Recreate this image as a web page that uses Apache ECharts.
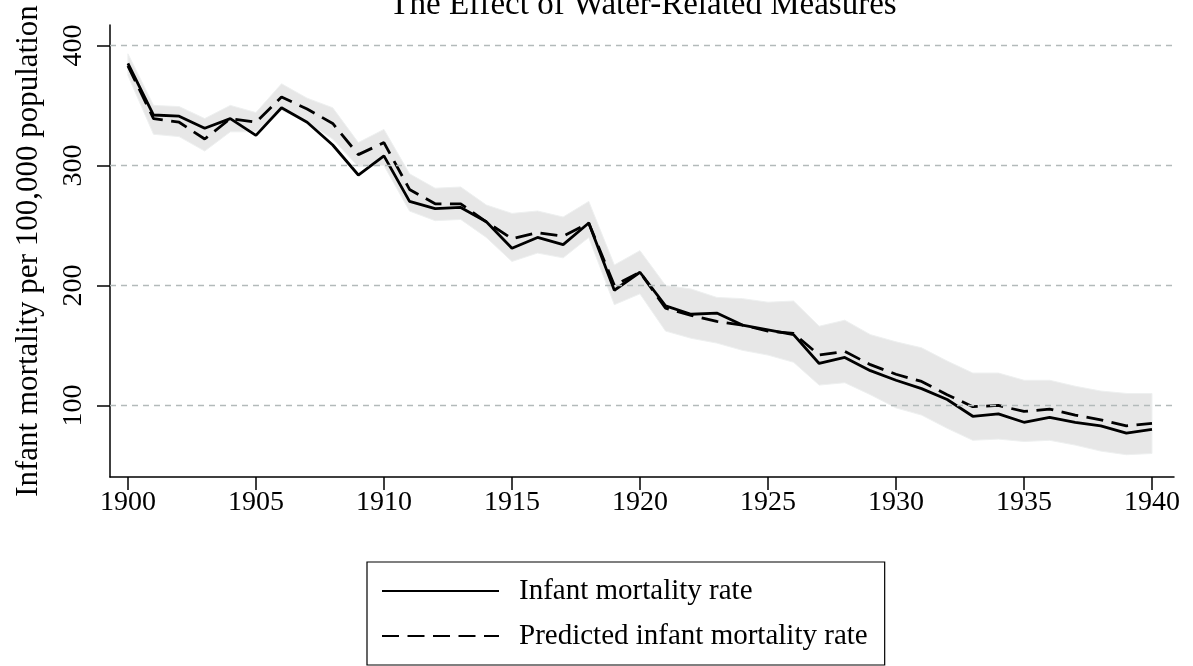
<!DOCTYPE html>
<html>
<head>
<meta charset="utf-8">
<script src="https://cdn.jsdelivr.net/npm/echarts@6/dist/echarts.min.js"></script>
<style>html,body{margin:0;padding:0;background:#fff}#c{width:1193px;height:666px}</style>
</head>
<body>
<div id="c"></div>
<script>
const years = [1900,1901,1902,1903,1904,1905,1906,1907,1908,1909,1910,1911,1912,1913,1914,1915,1916,1917,1918,1919,1920,1921,1922,1923,1924,1925,1926,1927,1928,1929,1930,1931,1932,1933,1934,1935,1936,1937,1938,1939,1940];
const actualRate = [385,342,341,331,339,325,348,336,317,292,308,270,264,265,253,231,240,234,252,196,211,183,176,177,167,163,159,135,140,129,121,114,105,91,93,86,90,86,83,77,80];
const predictedRate = [383,339,336,322,339,336,357,347,335,309,319,280,268,268,253,239,244,241,252,200,211,181,175,170,167,162,160,142,145,134,126,120,109,99,100,95,97,92,88,83,85];
const upperBound = [393,350,349,339,350,344,368,356,348,319,330,293,281,282,267,260,262,257,270,217,229,200,197,190,189,186,187,166,171,159,153,148,137,127,127,121,121,116,112,110,110];
const lowerBound = [375,326,324,312,328,328,346,336,322,299,300,262,254,255,240,220,227,223,240,184,193,162,156,152,146,142,136,117,119,109,98,92,81,71,72,70,71,67,62,59,60];
const xTicks = [1900,1905,1910,1915,1920,1925,1930,1935,1940];
const yTicks = [100,200,300,400];

const FONT = '"Liberation Serif", "DejaVu Serif", serif';
const pair = arr => years.map((y, i) => [y, arr[i]]);

const chart = echarts.init(document.getElementById('c'), null, {renderer: 'canvas'});
chart.setOption({
  backgroundColor: '#ffffff',
  animation: false,
  title: {
    text: 'The Effect of Water-Related Measures',
    left: 638, top: -16, textAlign: 'center',
    textStyle: {fontFamily: FONT, fontSize: 33, fontWeight: 'normal', color: '#000'}
  },
  grid: {left: 110, right: 19, top: 25, bottom: 189, containLabel: false, outerBoundsMode: 'none'},
  legend: {
    data: ['Infant mortality rate', 'Predicted infant mortality rate'],
    orient: 'vertical', left: 367, top: 562,
    itemWidth: 117, itemHeight: 24, itemGap: 15,
    padding: [14, 17, 14, 14],
    borderColor: '#000', borderWidth: 1.2, borderRadius: 0,
    itemStyle: {opacity: 0},
    textStyle: {fontFamily: FONT, fontSize: 29, color: '#000', lineHeight: 30, padding: [0, 0, 0, 15]}
  },
  xAxis: {
    type: 'value', min: 1899.3, max: 1940.86,
    axisLine: {show: true, lineStyle: {color: '#000', width: 1.5}},
    axisTick: {show: true, length: 13, inside: false, customValues: xTicks, lineStyle: {color: '#000', width: 1.5}},
    axisLabel: {customValues: xTicks, margin: 12, fontFamily: FONT, fontSize: 28, color: '#000', formatter: v => String(v)},
    splitLine: {show: false}
  },
  yAxis: {
    type: 'value', min: 40.4, max: 417,
    name: 'Infant mortality per 100,000 population',
    nameLocation: 'middle', nameGap: 66, nameRotate: 90,
    nameTextStyle: {fontFamily: FONT, fontSize: 31, color: '#000'},
    axisLine: {show: true, lineStyle: {color: '#000', width: 1.5}},
    axisTick: {show: true, length: 13, inside: false, customValues: yTicks, lineStyle: {color: '#000', width: 1.5}},
    axisLabel: {customValues: yTicks, rotate: 90, margin: 22, fontFamily: FONT, fontSize: 28, color: '#000', formatter: v => String(v)},
    splitLine: {show: false}
  },
  series: [
    {
      name: 'gridref', type: 'line', data: pair(lowerBound),
      symbol: 'none', silent: true, z: 1,
      lineStyle: {opacity: 0},
      markLine: {
        silent: true, symbol: ['none', 'none'], label: {show: false},
        lineStyle: {type: [6, 5], color: '#b3baba', width: 1.3},
        data: yTicks.map(v => ({yAxis: v}))
      }
    },
    {
      name: 'band', type: 'custom', silent: true, z: 2,
      data: [[years[0], lowerBound[0]]],
      encode: {x: 0, y: 1},
      renderItem: (params, api) => {
        const pts = [];
        years.forEach((y, i) => pts.push(api.coord([y, upperBound[i]])));
        for (let i = years.length - 1; i >= 0; i--) pts.push(api.coord([years[i], lowerBound[i]]));
        return {type: 'polygon', shape: {points: pts}, style: {fill: '#e7e7e7', stroke: '#eef0f0', lineWidth: 1}};
      }
    },
    {
      name: 'Infant mortality rate', type: 'line', data: pair(actualRate),
      symbol: 'none', z: 4,
      lineStyle: {color: '#000', width: 2.8, type: 'solid'},
      itemStyle: {color: '#000'}
    },
    {
      name: 'Predicted infant mortality rate', type: 'line', data: pair(predictedRate),
      symbol: 'none', z: 3,
      lineStyle: {color: '#000', width: 2.8, type: [17, 8.5]},
      itemStyle: {color: '#000'}
    }
  ]
});
</script>
</body>
</html>
